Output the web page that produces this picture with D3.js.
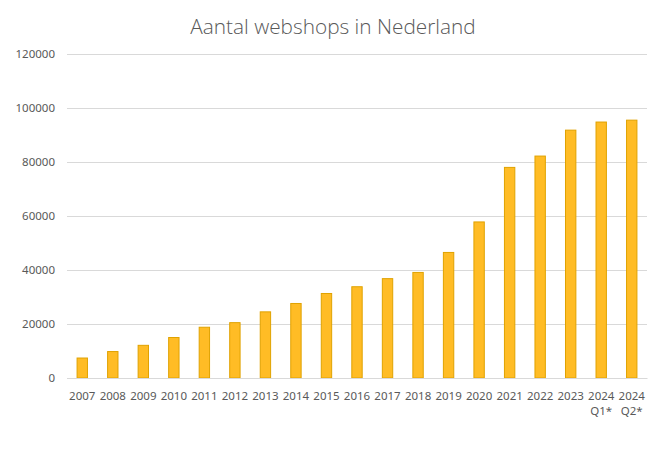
<!DOCTYPE html>
<html><head><meta charset="utf-8">
<script src="https://cdn.jsdelivr.net/npm/d3@7"></script>
<style>body{margin:0;background:#fff}</style>
</head><body><svg id="c" width="660" height="450"></svg>
<script>
const categories = ["2007","2008","2009","2010","2011","2012","2013","2014","2015","2016","2017","2018","2019","2020","2021","2022","2023","2024|Q1*","2024|Q2*"];
const values = [7400,9800,12100,15000,18800,20500,24500,27600,31300,33800,36800,39100,46500,57800,78000,82200,91800,94800,95500];
const yTicks = [0,20000,40000,60000,80000,100000,120000];
const title = "Aantal webshops in Nederland";

const svg = d3.select("#c");
const m = {l:67, r:13, t:54, b:72};
const W = 660, H = 450;
const x = d3.scaleBand().domain(categories).range([m.l, W-m.r]).paddingInner(0.66).paddingOuter(0.33);
const y = d3.scaleLinear().domain([0,120000]).range([378, 54]);

svg.append("text").attr("x", 333).attr("y", 34).attr("text-anchor","middle")
  .attr("font-family","'Open Sans', sans-serif").attr("font-weight",300)
  .attr("font-size",20.8).attr("fill","#595959").text(title);

const ga = svg.append("g").attr("transform",`translate(${m.l},0)`)
  .call(d3.axisLeft(y).tickValues(yTicks).tickSize(-(W-m.l-m.r)).tickPadding(12).tickFormat(d3.format("d")));
ga.select(".domain").remove();
ga.selectAll(".tick line").attr("stroke","#d9d9d9").attr("stroke-width",1);
ga.selectAll(".tick text").attr("font-family","'Noto Sans', sans-serif").attr("font-size",11.5).attr("fill","#595959");

svg.append("g").selectAll("rect").data(values).join("rect")
  .attr("x",(d,i)=>x(categories[i])).attr("width",x.bandwidth())
  .attr("y",d=>y(d)).attr("height",d=>y(0)-y(d))
  .attr("fill","#FFBC25").attr("stroke","#E0A200").attr("stroke-width",1);

const gx = svg.append("g").attr("transform","translate(0,378)")
  .call(d3.axisBottom(x).tickSize(0).tickFormat(""));
gx.select(".domain").attr("stroke","#d9d9d9");
gx.selectAll(".tick").each(function(d){
  const parts = d.split("|");
  const t = d3.select(this).append("text").attr("fill","#595959")
    .attr("font-family","'Noto Sans', sans-serif").attr("font-size",11.5).attr("text-anchor","middle");
  parts.forEach((p,j)=>t.append("tspan").attr("x",0).attr("y",22+j*15).text(p));
});
</script></body></html>
